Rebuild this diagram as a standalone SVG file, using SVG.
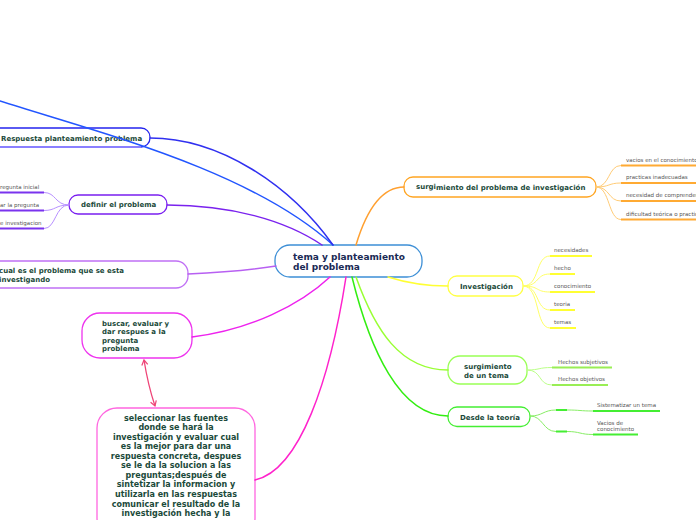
<svg xmlns="http://www.w3.org/2000/svg" width="696" height="520" viewBox="0 0 696 520">
<style>
.nt{font-family:"DejaVu Sans",Verdana,sans-serif;font-weight:bold;font-size:7px;fill:#1b4a3a}
.ct{font-family:"DejaVu Sans",Verdana,sans-serif;font-weight:bold;font-size:9px;fill:#1a2a55}
.bt{font-family:"DejaVu Sans",Verdana,sans-serif;font-weight:bold;font-size:8px;fill:#1b4a3a}
.st{font-family:"DejaVu Sans",Verdana,sans-serif;font-size:5.5px;fill:#555}
.c{fill:none;stroke-width:1.5;stroke-linecap:round}
.f{fill:none;stroke-width:1}
.u{fill:none;stroke-width:2}
.n{fill:#fff;stroke-width:1.3}
</style>
<defs>
<marker id="ah" markerWidth="8" markerHeight="8" refX="6" refY="4" orient="auto-start-reverse" markerUnits="userSpaceOnUse">
<path d="M1,1 L6,4 L1,7" fill="none" stroke="#ee4477" stroke-width="1.2"/>
</marker>
</defs>
<rect width="696" height="520" fill="#fff"/>
<g id="nodes">
<g id="n-central"><rect class="n" x="275" y="245" width="147" height="32" rx="15" stroke="#3d8fd6"/>
<text class="ct" x="293" y="259.5">tema y planteamiento</text><text class="ct" x="293" y="269.5">del problema</text></g>
<g id="n-respuesta"><rect class="n" x="-20" y="128" width="170" height="19" rx="9" stroke="#2424ee"/>
<path d="M-20,147 L141,147" stroke="#8a80ff" stroke-width="2" fill="none"/>
<text class="nt" x="1" y="140.5">Respuesta planteamiento problema</text></g>
<g id="n-definir"><rect class="n" x="69" y="195" width="98" height="19" rx="9" stroke="#7a1ff0"/>
<text class="nt" x="81" y="207">definir el problema</text></g>
<g id="n-cual"><rect class="n" x="-20" y="261" width="208" height="27" rx="12" stroke="#c070f5"/>
<text class="nt" x="-1" y="273">cual es el problema que se esta</text><text class="nt" x="-1" y="282">investigando</text></g>
<g id="n-buscar"><rect class="n" x="82" y="313" width="110" height="45" rx="18" stroke="#ee33ee"/>
<text class="nt" x="102" y="326">buscar, evaluar y</text><text class="nt" x="102" y="334.3">dar respues a la</text><text class="nt" x="102" y="342.6">pregunta</text><text class="nt" x="102" y="350.9">problema</text></g>
<g id="n-seleccionar"><rect class="n" x="97" y="408" width="158" height="130" rx="20" stroke="#ff66e0"/>
<text class="bt" text-anchor="middle" x="176" y="420.5">seleccionar las fuentes</text>
<text class="bt" text-anchor="middle" x="176" y="430.1">donde se hará la</text>
<text class="bt" text-anchor="middle" x="176" y="439.6">investigación y evaluar cual</text>
<text class="bt" text-anchor="middle" x="176" y="449.2">es la mejor para dar una</text>
<text class="bt" text-anchor="middle" x="176" y="458.7">respuesta concreta, despues</text>
<text class="bt" text-anchor="middle" x="176" y="468.3">se le da la solucion a  las</text>
<text class="bt" text-anchor="middle" x="176" y="477.9">preguntas;después de</text>
<text class="bt" text-anchor="middle" x="176" y="487.4">sintetizar la informacion y</text>
<text class="bt" text-anchor="middle" x="176" y="497">utilizarla en las respuestas</text>
<text class="bt" text-anchor="middle" x="176" y="506.5">comunicar el resultado de la</text>
<text class="bt" text-anchor="middle" x="176" y="516.1">investigación hecha y la</text></g>
<g id="n-surgimiento"><rect class="n" x="404" y="177" width="192" height="20" rx="9" stroke="#ffa522"/>
<text class="nt" x="416" y="190"><tspan dy="-1">surgi</tspan><tspan dy="1">miento del problema de investigación</tspan></text></g>
<g id="n-investigacion"><rect class="n" x="448" y="276" width="75" height="20" rx="9" stroke="#ffff44"/>
<text class="nt" x="460" y="288.5">Investigación</text></g>
<g id="n-tema"><rect class="n" x="448" y="356" width="79" height="28" rx="12" stroke="#99ff55"/>
<text class="nt" x="464" y="369">surgimiento</text><text class="nt" x="464" y="377.5">de un tema</text></g>
<g id="n-teoria"><rect class="n" x="448" y="407" width="82" height="19.5" rx="9" stroke="#44ee33"/>
<text class="nt" x="460" y="419.5">Desde la teoría</text></g>
<g id="sub-definir">
<path class="u" stroke="#7a33ee" d="M0,192.5 H44 M0,210.5 H44 M0,228.5 H44"/>
<text class="st" x="0" y="188.5">regunta inicial</text>
<text class="st" x="0" y="206.5">ar la pregunta</text>
<text class="st" x="0" y="224.5">e investigacion</text></g>
<g id="sub-surgimiento">
<path class="u" stroke="#ffaa33" d="M621,165.5 H696 M621,183 H696 M621,201 H696 M621,219.5 H696"/>
<text class="st" x="626" y="161.5">vacios en el conocimiento</text>
<text class="st" x="626" y="179">practicas inadecuadas</text>
<text class="st" x="626" y="197">necesidad de comprender</text>
<text class="st" x="626" y="215.5">dificultad teórica o practica</text></g>
<g id="sub-investigacion">
<path class="u" stroke="#ffff33" d="M550,256 H592 M550,274 H575 M550,292 H595 M550,310 H575 M550,328 H576"/>
<text class="st" x="554" y="252">necesidades</text>
<text class="st" x="554" y="270">hecho</text>
<text class="st" x="554" y="288">conocimiento</text>
<text class="st" x="554" y="306">teoria</text>
<text class="st" x="554" y="324">temas</text></g>
<g id="sub-tema">
<path class="u" stroke="#99ee55" d="M552,367.5 H612 M552,385 H608"/>
<text class="st" x="558" y="363.5">Hechos subjetivos</text>
<text class="st" x="558" y="381">Hechos objetivos</text></g>
<g id="sub-teoria">
<path class="u" stroke="#44ee33" d="M556,410 H567 M593,411 H660 M556,431.5 H567 M593,434.5 H638"/>
<text class="st" x="597" y="407">Sistematizar un tema</text>
<text class="st" x="597" y="424.5">Vacios de</text>
<text class="st" x="597" y="431">conocimiento</text></g>
</g>
<g id="connectors">
<path class="c" stroke="#2255ff" d="M0,101 C100,133 250,170 333,245"/>
<path class="c" stroke="#3030f0" d="M150,138 C220,138 290,185 333,245"/>
<path class="c" stroke="#7a22ee" d="M167,205 C230,205 285,220 322,245"/>
<path class="c" stroke="#b860f2" d="M188,274 C230,272 250,270 276,266"/>
<path class="c" stroke="#ee22ee" d="M192,337 C250,330 300,305 330,277"/>
<path class="c" stroke="#ff22cc" d="M255,480 C300,470 330,380 346,277"/>
<path class="c" stroke="#ffa030" d="M356,245 C368,205 385,187 404,187"/>
<path class="c" stroke="#ffff33" d="M388,277 C410,284 430,286 448,286"/>
<path class="c" stroke="#99ff33" d="M356,277 C375,330 400,370 448,370"/>
<path class="c" stroke="#33ee11" d="M352,277 C370,350 400,416 448,416"/>
<path fill="none" stroke="#ee4477" stroke-width="1.3" marker-start="url(#ah)" marker-end="url(#ah)" d="M144,360 Q148,385 155,406"/>
<path class="f" stroke="#b890ff" d="M69,205 C55,205 56,192.5 44,192.5 M69,205 C55,205 56,210.5 44,210.5 M69,205 C55,205 56,228.5 44,228.5"/>
<path class="f" stroke="#ffcc77" d="M596,187 C610,187 608,165.5 621,165.5 M596,187 C610,187 608,183 621,183 M596,187 C610,187 608,201 621,201 M596,187 C610,187 608,219.5 621,219.5"/>
<path class="f" stroke="#ffff66" d="M523,286 C540,286 535,256 550,256 M523,286 C540,286 535,274 550,274 M523,286 C540,286 535,292 550,292 M523,286 C540,286 535,310 550,310 M523,286 C540,286 535,328 550,328"/>
<path class="f" stroke="#bbff88" d="M527,370 C540,370 538,367.5 552,367.5 M527,370 C542,370 538,385 552,385"/>
<path class="f" stroke="#88ee66" d="M530,416 C543,416 543,410 556,410 M530,416 C543,416 543,431.5 556,431.5 M567,410 C580,410 580,411 593,411 M567,431.5 C580,431.5 580,434.5 593,434.5"/>
</g>
</svg>
